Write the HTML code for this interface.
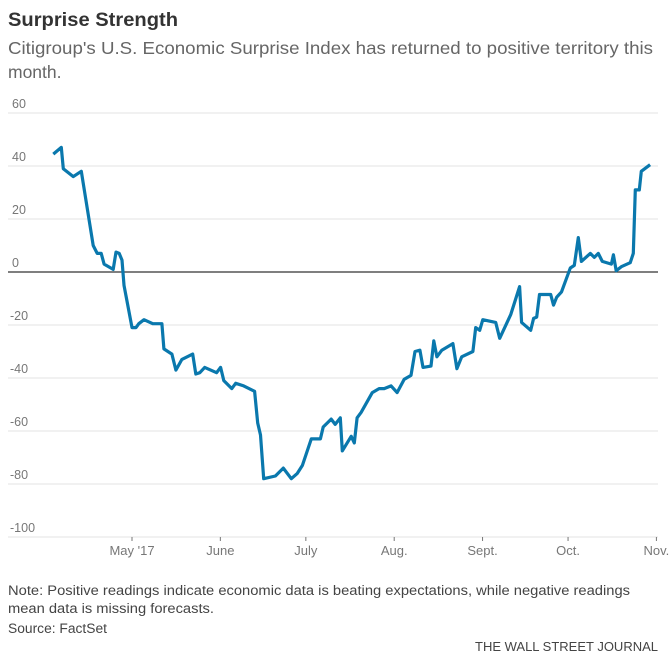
<!DOCTYPE html>
<html><head><meta charset="utf-8"><style>
body{margin:0;background:#fff;width:669px;height:665px;overflow:hidden;font-family:"Liberation Sans",sans-serif}
svg{position:absolute;left:0;top:0}
</style></head><body>
<svg width="669" height="665">
<text x="8" y="26" font-size="19.5" font-weight="bold" fill="#333" textLength="170" lengthAdjust="spacingAndGlyphs">Surprise Strength</text>
<text x="8" y="54" font-size="17.5" fill="#666" textLength="645" lengthAdjust="spacingAndGlyphs">Citigroup's U.S. Economic Surprise Index has returned to positive territory this</text>
<text x="8" y="78" font-size="17.5" fill="#666">month.</text>
<g id="grid"></g><g id="xaxis"></g>
<path id="line" fill="none" stroke="#0a78ad" stroke-width="3.2" stroke-linejoin="round"/>
<text x="8" y="595" font-size="13.5" fill="#444" textLength="622" lengthAdjust="spacingAndGlyphs">Note: Positive readings indicate economic data is beating expectations, while negative readings</text>
<text x="8" y="613" font-size="13.5" fill="#444" textLength="206" lengthAdjust="spacingAndGlyphs">mean data is missing forecasts.</text>
<text x="8" y="633" font-size="13.5" fill="#444" textLength="99" lengthAdjust="spacingAndGlyphs">Source: FactSet</text>
<text x="658" y="651" font-size="13" fill="#444" text-anchor="end">THE WALL STREET JOURNAL</text>
</svg>
<script>
const yTicks=[60,40,20,0,-20,-40,-60,-80,-100];
const xTickLabels=["May '17","June","July","Aug.","Sept.","Oct.","Nov."];
const xTickDays=[0,31,61,92,123,153,184];
const days=[-27.6,-24.8,-24.1,-20.6,-17.8,-13.6,-12.2,-10.8,-9.8,-6.6,-5.6,-4.5,-3.5,-2.8,0,1.4,2.4,4.2,7.3,10.5,11.2,14,15.4,17.5,21.3,22.4,23.8,25.5,29.7,31.1,32.2,35,36.4,39.2,43,44.1,45.1,46.2,50.3,53.1,55.9,58,59.8,62.9,66.1,67.1,69.9,71.3,73.1,73.8,76.9,78,79,80.4,84.3,86.7,88.5,90.9,93,95.5,97.9,99.3,101,102.1,104.9,105.9,107,108.7,112.6,114,115.7,119.6,120.6,122,123.1,127.6,129,132.9,136,136.7,139.9,140.9,142,143,146.9,147.9,149,150.7,153.8,155.2,156.6,157.7,160.8,162.2,163.6,165,168.2,168.9,169.9,171.7,174.8,175.9,176.6,178,178.7,181.8];
const values=[44.5,47,39,36,38,10,7,7,3,1,7.5,7,4.5,-5,-21,-21,-19.5,-18,-19.5,-19.5,-29,-31,-37,-33,-31,-38.5,-38,-36,-38,-36,-41,-44,-42,-43,-45,-57,-61.5,-78,-77,-74,-78,-76,-73,-63,-63,-58.5,-55.5,-57.5,-55,-67.5,-62,-64.5,-55,-53,-45.5,-44,-44,-43,-45.5,-40.5,-39,-30,-29.5,-36,-35.5,-26,-32,-29.5,-27,-36.5,-32,-30,-21,-22,-18,-19,-25,-16,-5.5,-19,-22,-17.5,-17,-8.5,-8.5,-12.5,-9.5,-7.5,1.5,2.5,13,4,7,5.5,7,4,3,6.5,0.5,2,3.5,7,31,31,38,40.5];
const NS="http://www.w3.org/2000/svg";
const X=d=>132+d*2.85;
const Y=v=>272-v*2.65;
const grid=document.getElementById('grid'),xa=document.getElementById('xaxis');
yTicks.forEach(t=>{
 const l=document.createElementNS(NS,'line');
 
 
 l.setAttribute('x1',8);l.setAttribute('x2',658);l.setAttribute('y1',Y(t));l.setAttribute('y2',Y(t));
 l.setAttribute('stroke',t===0?'#333':'#e3e3e3');l.setAttribute('stroke-width',t===0?1.2:1);
 grid.appendChild(l);
 const tx=document.createElementNS(NS,'text');
 
 
 tx.setAttribute('x',t<0?10:12);tx.setAttribute('y',Y(t)-5);tx.setAttribute('font-size','12.5');tx.setAttribute('fill','#777');
 tx.textContent=t;grid.appendChild(tx);
});
xTickDays.forEach((d,i)=>{
 const l=document.createElementNS(NS,'line');
 
 
 l.setAttribute('x1',X(d));l.setAttribute('x2',X(d));l.setAttribute('y1',537);l.setAttribute('y2',541);l.setAttribute('stroke','#777');
 xa.appendChild(l);
 const tx=document.createElementNS(NS,'text');
 
 
 tx.setAttribute('x',X(d));tx.setAttribute('y',555);tx.setAttribute('font-size','13');tx.setAttribute('fill','#777');tx.setAttribute('text-anchor','middle');
 tx.textContent=xTickLabels[i];xa.appendChild(tx);
});
document.getElementById('line').setAttribute('d',days.map((d,i)=>(i?'L':'M')+X(d).toFixed(1)+','+Y(values[i]).toFixed(1)).join(''));
</script>
</body></html>
